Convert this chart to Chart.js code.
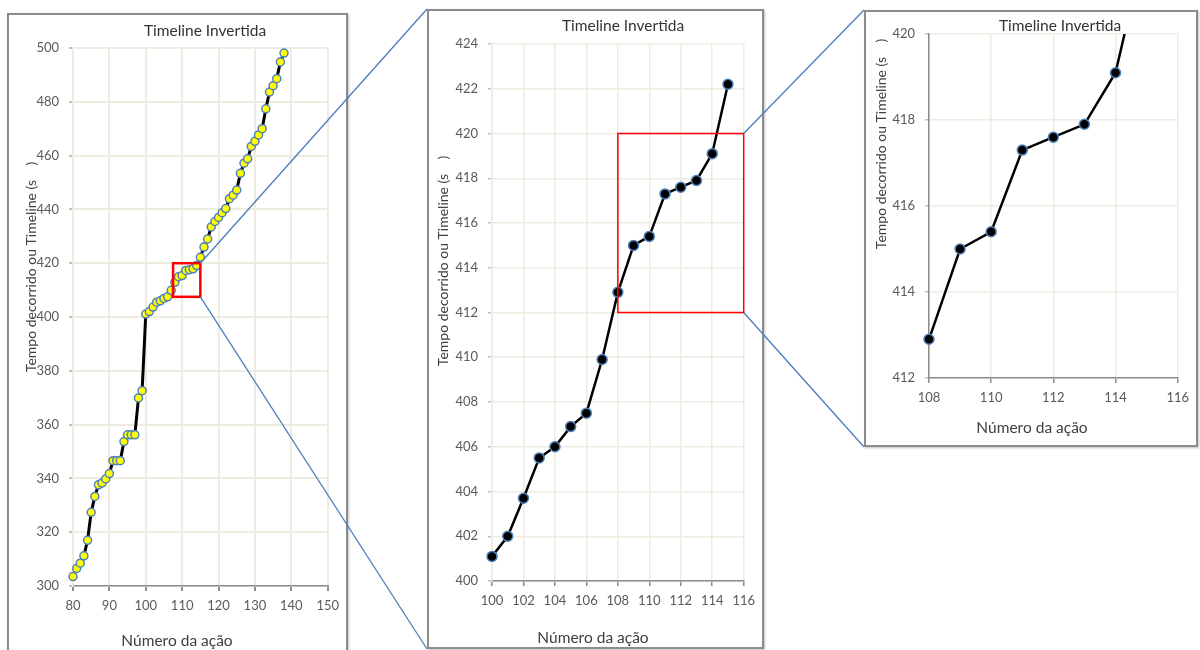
<!DOCTYPE html>
<html>
<head>
<meta charset="utf-8">
<script src="https://cdn.jsdelivr.net/npm/chart.js@4"></script>
<style>
    body { margin: 0; background: #fff; width: 1200px; height: 650px; overflow: hidden; position: relative; }
    .painel { position: absolute; box-sizing: border-box; border: 2px solid #8c8c8c; background: #fff; box-shadow: 1px 1px 2px rgba(0,0,0,0.25); }
    .painel canvas { position: absolute; left: 0; top: 0; }
    #ligacoes { position: absolute; left: 0; top: 0; pointer-events: none; z-index: 10; }
</style>
</head>
<body>
<div class="painel" id="painel1" style="left:7px; top:13px; width:341px; height:660px;">
    <canvas id="grafico1" width="337" height="656"></canvas>
</div>
<div class="painel" id="painel2" style="left:427px; top:9px; width:337px; height:640px;">
    <canvas id="grafico2" width="333" height="636"></canvas>
</div>
<div class="painel" id="painel3" style="left:864px; top:10px; width:334px; height:437px;">
    <canvas id="grafico3" width="330" height="433"></canvas>
</div>
<canvas id="ligacoes" width="1200" height="650"></canvas>

<script>
// Número da ação (eixo x)
const acoes = [
    80, 81, 82, 83, 84, 85, 86, 87, 88, 89,
    90, 91, 92, 93, 94, 95, 96, 97, 98, 99,
    100, 101, 102, 103, 104, 105, 106, 107, 108, 109,
    110, 111, 112, 113, 114, 115, 116, 117, 118, 119,
    120, 121, 122, 123, 124, 125, 126, 127, 128, 129,
    130, 131, 132, 133, 134, 135, 136, 137, 138
];

// Tempo decorrido (s)
const tempos = [
    303.5, 306.5, 308.5, 311.2, 317.0, 327.4, 333.3, 337.6, 338.3, 339.8,
    341.8, 346.6, 346.6, 346.6, 353.7, 356.2, 356.2, 356.2, 369.9, 372.6,
    401.1, 402.0, 403.7, 405.5, 406.0, 406.9, 407.5, 409.9, 412.9, 415.0,
    415.4, 417.3, 417.6, 417.9, 419.1, 422.2, 426.0, 429.0, 433.5, 435.5,
    437.0, 438.8, 440.3, 444.0, 445.3, 447.2, 453.4, 457.2, 458.8, 463.4,
    465.3, 467.7, 470.0, 477.4, 483.6, 486.0, 488.6, 494.8, 498.1
];

// limites dos eixos [min, max, passo]
const eixoX1 = [80, 150, 10];
const eixoY1 = [300, 500, 20];
const eixoX2 = [100, 116, 2];
const eixoY2 = [400, 424, 2];
const eixoX3 = [108, 116, 2];
const eixoY3 = [412, 420, 2];

// zonas ampliadas (retângulos vermelhos)
const zoom1 = { x: [107.5, 115], y: [407.5, 420] };
const zoom2 = { x: [108, 116], y: [412, 420] };

const titulo = 'Timeline Invertida';
const tituloX = 'Número da ação';
const tituloY = 'Tempo decorrido ou Timeline (s    )';

const FONTE = 'Lato, "Open Sans", sans-serif';
const GRELHA = '#eeece1';

function pontos(xmin, xmax) {
    let out = [];
    for (let i = 0; i < acoes.length; i++) {
        if (acoes[i] >= xmin && acoes[i] <= xmax) out.push({ x: acoes[i], y: tempos[i] });
    }
    return out;
}

// textos do painel (título, eixos) desenhados à mão como no Excel
const textosPainel = {
    id: 'textosPainel',
    afterDraw(chart, args, o) {
        const ctx = chart.ctx;
        ctx.save();
        ctx.textAlign = 'center';
        ctx.textBaseline = 'middle';
        ctx.fillStyle = '#333';
        ctx.font = '15.5px ' + FONTE;
        ctx.fillText(titulo, o.titulo[0], o.titulo[1]);
        ctx.fillStyle = '#404040';
        ctx.font = '15.5px ' + FONTE;
        ctx.fillText(tituloX, o.eixoX[0], o.eixoX[1]);
        ctx.translate(o.eixoY[0], o.eixoY[1]);
        ctx.rotate(-Math.PI / 2);
        ctx.font = '14px ' + FONTE;
        ctx.fillText(tituloY, 0, 0);
        ctx.restore();
    }
};

// retângulo vermelho da zona ampliada
const caixaZoom = {
    id: 'caixaZoom',
    afterDatasetsDraw(chart, args, o) {
        if (!o.caixa) return;
        const ctx = chart.ctx, sx = chart.scales.x, sy = chart.scales.y;
        const x0 = sx.getPixelForValue(o.caixa.x[0]), x1 = sx.getPixelForValue(o.caixa.x[1]);
        const y0 = sy.getPixelForValue(o.caixa.y[1]), y1 = sy.getPixelForValue(o.caixa.y[0]);
        ctx.save();
        ctx.strokeStyle = '#ff0000';
        ctx.lineWidth = o.largura;
        ctx.strokeRect(x0, y0, x1 - x0, y1 - y0);
        ctx.restore();
    }
};

function criarGrafico(id, cfg) {
    const ctx = document.getElementById(id).getContext('2d');
    return new Chart(ctx, {
        type: 'line',
        data: {
            datasets: [{
                data: cfg.dados,
                borderColor: '#000',
                borderWidth: cfg.linha,
                pointRadius: cfg.raio,
                pointBackgroundColor: cfg.corPonto,
                pointBorderColor: '#4f81bd',
                pointBorderWidth: 1.5,
                tension: 0,
                clip: cfg.clip
            }]
        },
        options: {
            responsive: false,
            animation: false,
            layout: { padding: { left: 0, top: cfg.area.top, right: cfg.area.right, bottom: 0 } },
            plugins: {
                legend: { display: false },
                tooltip: { enabled: false },
                textosPainel: cfg.textos,
                caixaZoom: { caixa: cfg.caixa, largura: cfg.larguraCaixa }
            },
            scales: {
                x: {
                    type: 'linear',
                    min: cfg.eixoX[0], max: cfg.eixoX[1],
                    afterFit: function (s) { s.height = cfg.area.bottom; },
                    ticks: { stepSize: cfg.eixoX[2], color: '#595959', font: { family: FONTE, size: 13 }, padding: 7 },
                    grid: { color: GRELHA, lineWidth: cfg.grelha, tickLength: 5, tickColor: '#8c8c8c' },
                    border: { color: '#8c8c8c', width: 1.5 }
                },
                y: {
                    type: 'linear',
                    min: cfg.eixoY[0], max: cfg.eixoY[1],
                    afterFit: function (s) { s.width = cfg.area.left; },
                    ticks: { stepSize: cfg.eixoY[2], color: '#595959', font: { family: FONTE, size: 13 }, padding: 10 },
                    grid: { color: GRELHA, lineWidth: cfg.grelha, tickLength: 4, tickColor: '#bfbfbf' },
                    border: { color: cfg.bordaY, width: 1.5 }
                }
            }
        },
        plugins: [textosPainel, caixaZoom]
    });
}

const g1 = criarGrafico('grafico1', {
    dados: pontos(eixoX1[0], eixoX1[1]),
    linha: 3, raio: 4, corPonto: '#ffff00', clip: 6,
    area: { left: 64, top: 33, right: 18, bottom: 85 },
    eixoX: eixoX1, eixoY: eixoY1, grelha: 2, bordaY: GRELHA,
    textos: { titulo: [196, 16], eixoX: [168, 626], eixoY: [22, 252] },
    caixa: zoom1, larguraCaixa: 2.5
});

const g2 = criarGrafico('grafico2', {
    dados: pontos(eixoX2[0], 115),
    linha: 2.5, raio: 5, corPonto: '#000', clip: 8,
    area: { left: 63, top: 33, right: 18, bottom: 66 },
    eixoX: eixoX2, eixoY: eixoY2, grelha: 1.5, bordaY: GRELHA,
    textos: { titulo: [194, 15], eixoX: [164, 627], eixoY: [14, 250] },
    caixa: zoom2, larguraCaixa: 1.5
});

const g3 = criarGrafico('grafico3', {
    dados: pontos(eixoX3[0], 115),
    linha: 2.5, raio: 5, corPonto: '#000', clip: { left: 8, top: 0, right: 8, bottom: 8 },
    area: { left: 63, top: 22, right: 15, bottom: 67 },
    eixoX: eixoX3, eixoY: eixoY3, grelha: 1.5, bordaY: '#8c8c8c',
    textos: { titulo: [194, 14], eixoX: [166, 416], eixoY: [15, 132] },
    caixa: null, larguraCaixa: 0
});

// linhas azuis que ligam cada zona ao painel ampliado
function cantoCaixa(chart, caixa) {
    const r = chart.canvas.getBoundingClientRect();
    return {
        x: r.left + chart.scales.x.getPixelForValue(caixa.x[1]),
        topo: r.top + chart.scales.y.getPixelForValue(caixa.y[1]),
        base: r.top + chart.scales.y.getPixelForValue(caixa.y[0])
    };
}

function desenharLigacoes() {
    const ctx = document.getElementById('ligacoes').getContext('2d');
    const c1 = cantoCaixa(g1, zoom1);
    const c2 = cantoCaixa(g2, zoom2);
    const p2 = document.getElementById('painel2').getBoundingClientRect();
    const p3 = document.getElementById('painel3').getBoundingClientRect();
    const linhas = [
        [c1.x, c1.topo, p2.left, p2.top],
        [c1.x, c1.base, p2.left, p2.bottom],
        [c2.x, c2.topo, p3.left, p3.top],
        [c2.x, c2.base, p3.left, p3.bottom]
    ];
    ctx.strokeStyle = '#4a7ebb';
    ctx.lineWidth = 1.3;
    linhas.forEach(function (l) {
        ctx.beginPath();
        ctx.moveTo(l[0], l[1]);
        ctx.lineTo(l[2], l[3]);
        ctx.stroke();
    });
}

desenharLigacoes();
</script>
</body>
</html>
